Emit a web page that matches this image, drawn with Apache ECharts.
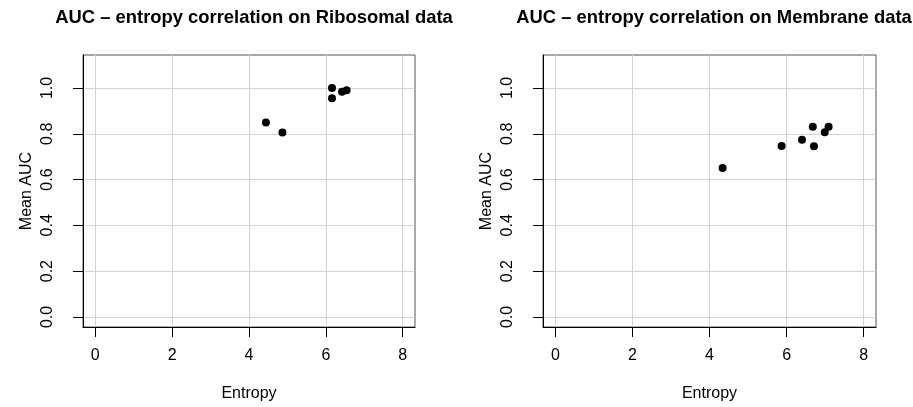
<!DOCTYPE html>
<html>
<head>
<meta charset="utf-8">
<script src="https://cdn.jsdelivr.net/npm/echarts@6/dist/echarts.min.js"></script>
<style>
html,body{margin:0;padding:0;background:#fff;}
#chart{width:913px;height:407px;}
</style>
</head>
<body>
<div id="chart"></div>
<script>
// ---- data ----
var titles = ['AUC \u2013 entropy correlation on Ribosomal data', 'AUC \u2013 entropy correlation on Membrane data'];
var xAxisName = 'Entropy';
var yAxisName = 'Mean AUC';
var xTicks = [0, 2, 4, 6, 8];
var yTicks = [0, 0.2, 0.4, 0.6, 0.8, 1.0];
var ribEntropy = [4.44, 4.87, 6.16, 6.16, 6.42, 6.54];
var ribAUC     = [0.849, 0.805, 1.0, 0.955, 0.983, 0.99];
var memEntropy = [4.34, 5.87, 6.40, 6.68, 6.71, 6.99, 7.09];
var memAUC     = [0.651, 0.746, 0.774, 0.831, 0.745, 0.807, 0.831];
var xRange = [-0.32, 8.32];
var yRange = [-0.044, 1.144];

// ---- build ----
var FONT = '"Liberation Sans", Arial, Helvetica, sans-serif';
function pairs(xs, ys){ return xs.map(function(x,i){ return [x, ys[i]]; }); }

var gridPos = [
  {left: 83, top: 55, width: 332, height: 274},
  {left: 543, top: 55, width: 333, height: 274}
];
var titleCenters = [249, 709];

function xAx(i){
  return {
    gridIndex: i, type: 'value', min: xRange[0], max: xRange[1],
    name: xAxisName, nameLocation: 'middle', nameGap: 59,
    nameTextStyle: {fontFamily: FONT, fontSize: 16, color: '#000'},
    axisLine: {show: true, onZero: false, lineStyle: {color: '#000', width: 1}},
    axisTick: {show: true, length: 10, customValues: xTicks, lineStyle: {color: '#000'}},
    axisLabel: {customValues: xTicks, margin: 21, fontFamily: FONT, fontSize: 16, color: '#000',
      formatter: function(v){ return String(v); }},
    splitLine: {show: true, lineStyle: {color: '#d3d3d3', width: 1}}
  };
}
function yAx(i){
  return {
    gridIndex: i, type: 'value', min: yRange[0], max: yRange[1],
    name: yAxisName, nameLocation: 'middle', nameGap: 48,
    nameTextStyle: {fontFamily: FONT, fontSize: 16, color: '#000'},
    axisLine: {show: true, onZero: false, lineStyle: {color: '#000', width: 1}},
    axisTick: {show: true, length: 10, customValues: yTicks, lineStyle: {color: '#000'}},
    axisLabel: {customValues: yTicks, rotate: 90, margin: 27, fontFamily: FONT, fontSize: 16, color: '#000',
      formatter: function(v){ return v.toFixed(1); }},
    splitLine: {show: true, lineStyle: {color: '#d3d3d3', width: 1}}
  };
}

var option = {
  animation: false,
  backgroundColor: '#fff',
  title: titles.map(function(t, i){
    return {text: t, left: titleCenters[i], top: 4, textAlign: 'center',
      textStyle: {fontFamily: FONT, fontSize: 18.4, fontWeight: 'bold', color: '#000'}};
  }),
  grid: gridPos.map(function(g){
    return Object.assign({show: true, borderColor: '#555', borderWidth: 1, backgroundColor: 'transparent', containLabel: false}, g);
  }),
  xAxis: [xAx(0), xAx(1)],
  yAxis: [yAx(0), yAx(1)],
  series: [
    {type: 'scatter', xAxisIndex: 0, yAxisIndex: 0, data: pairs(ribEntropy, ribAUC),
      symbol: 'circle', symbolSize: 8, itemStyle: {color: '#000', opacity: 1}},
    {type: 'scatter', xAxisIndex: 1, yAxisIndex: 1, data: pairs(memEntropy, memAUC),
      symbol: 'circle', symbolSize: 8, itemStyle: {color: '#000', opacity: 1}}
  ]
};
var chart = echarts.init(document.getElementById('chart'), null, {renderer: 'canvas'});
chart.setOption(option);
</script>
</body>
</html>
